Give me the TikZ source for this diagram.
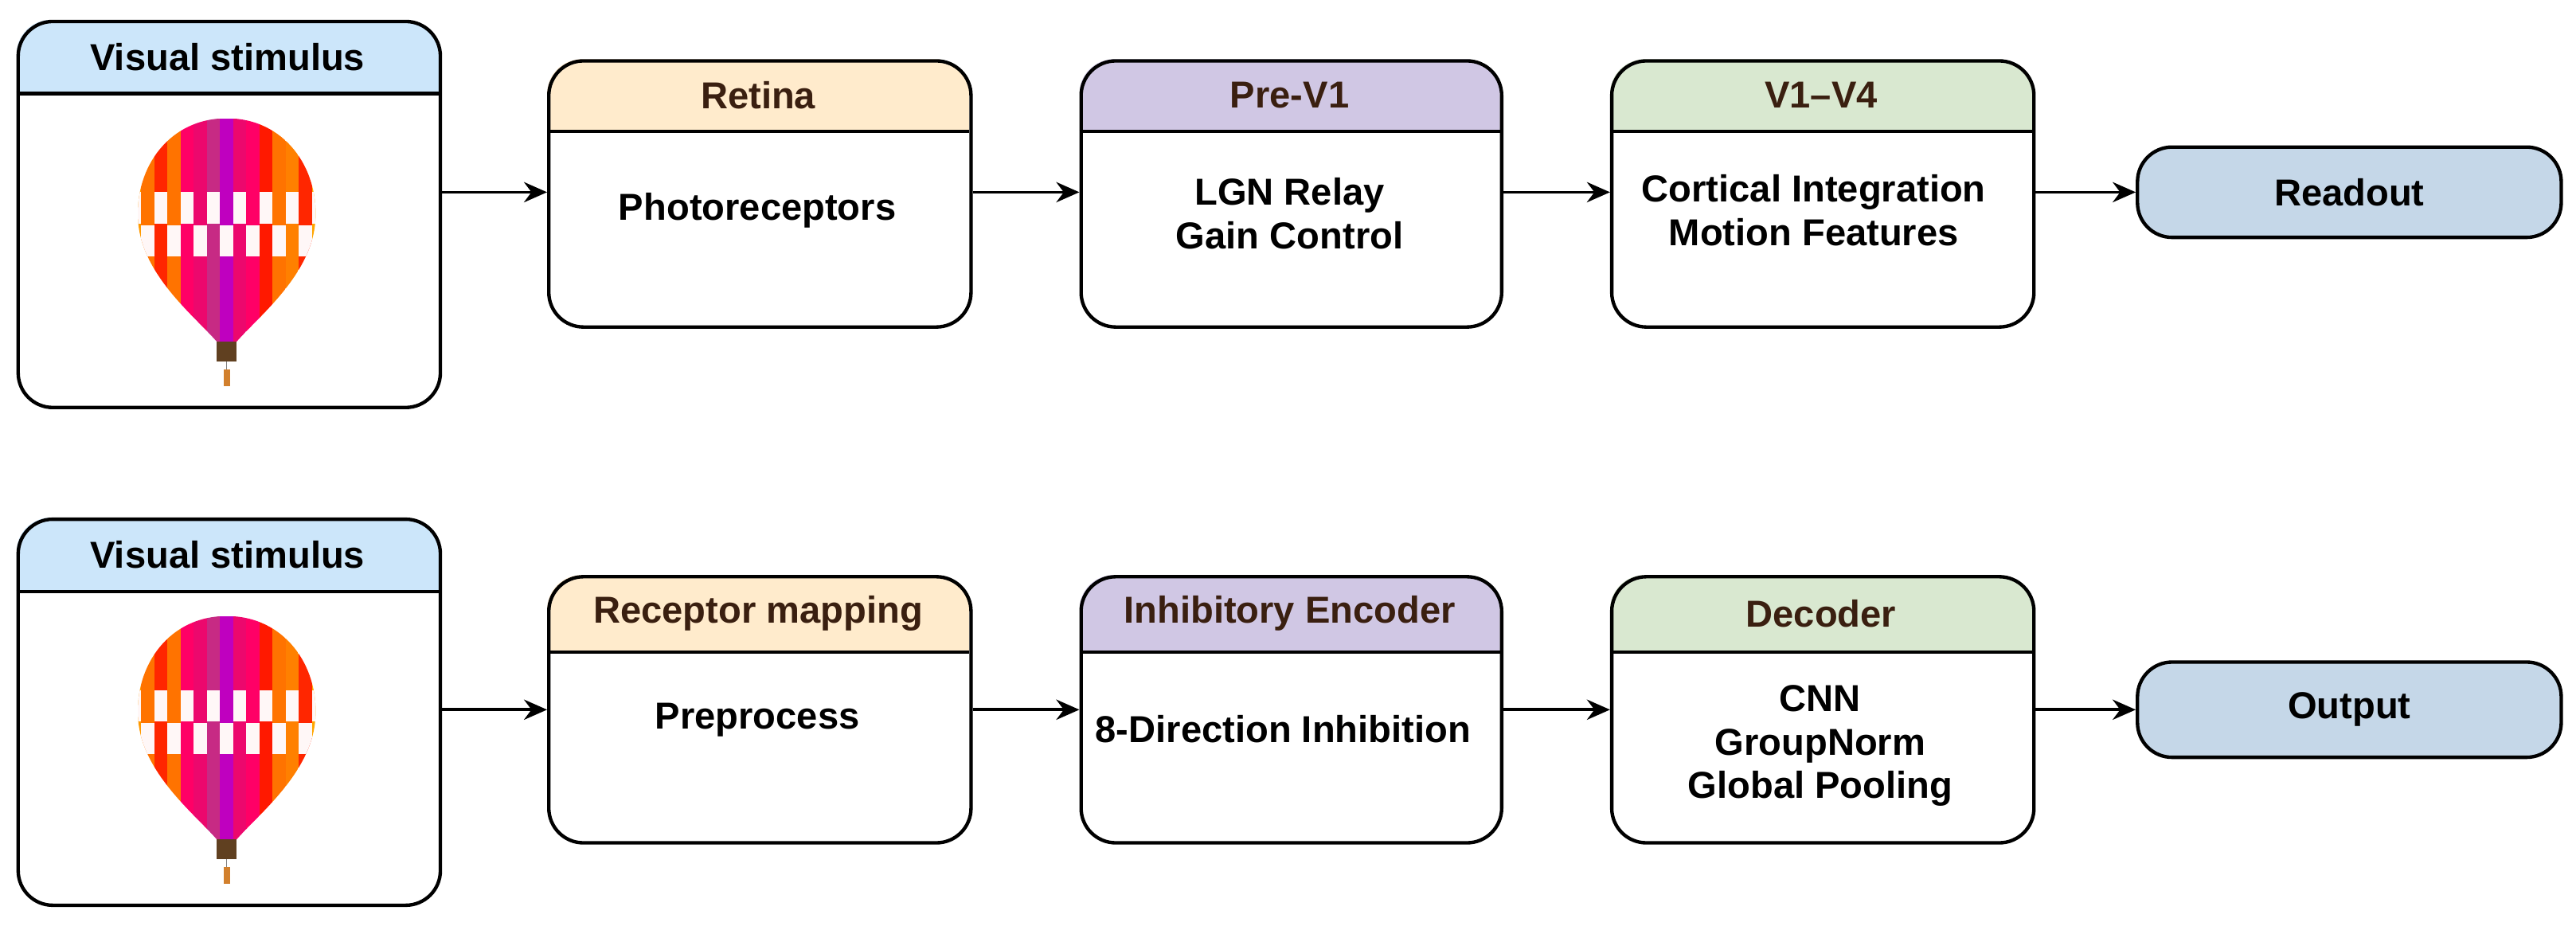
\documentclass[tikz,border=0pt]{standalone}
\usepackage{fontspec}
\setmainfont{Liberation Sans}
\usetikzlibrary{positioning,arrows.meta,calc}
\definecolor{stimblue}{HTML}{CCE6FA}
\definecolor{retorange}{HTML}{FFEBCC}
\definecolor{prepurple}{HTML}{D0C7E4}
\definecolor{cortgreen}{HTML}{D9E8D0}
\definecolor{outblue}{HTML}{C5D7E8}
\definecolor{titlebrown}{HTML}{3A1F10}
\tikzset{
    x=0.02cm,
    y=-0.02cm,
    >={Stealth[length=8pt,width=7pt]},
    lbl/.style = {
        font=\fontsize{13}{15}\selectfont\bfseries,
        align=center
    },
    frame/.style = {
        draw,
        rounded corners=12pt,
        line width=1.2pt
    },
    flow/.style = {
        ->,
        line width=1pt
    },
}
% box with coloured header: name, x1, y1, x2, y2, header bottom, colour, title colour, title
\newcommand{\stagebox}[9]{
    \begin{scope}
        \clip[rounded corners=12pt] (#2,#3) rectangle (#4,#5);
        \fill[#7] (#2,#3) rectangle (#4,#6);
    \end{scope}
    \draw[line width=1.2pt] (#2,#6) -- (#4,#6);
    \node[frame, minimum width={(#4-#2)*0.02cm}, minimum height={(#5-#3)*0.02cm}, anchor=north west] (#1) at (#2,#3) {};
    \node[lbl, text=#8] (#1-title) at ($(#2,#3)!0.5!(#4,#6)$) {#9};
}
% balloon picture, top point given
\newcommand{\balloon}[1]{
    \begin{scope}[shift={(#1)}]
        \begin{scope}
            \clip (0,0) .. controls (-35,0) and (-56,30) .. (-54,62)
                .. controls (-52,95) and (-20,120) .. (-6,136)
                -- (6,136) .. controls (20,120) and (52,95) .. (54,62)
                .. controls (56,30) and (35,0) .. (0,0);
            \foreach \i/\c in {-60/orange!80!yellow,-52/orange!90!red,-44/red!70!orange,-36/orange!90!red,-28/red!60!magenta,-20/magenta!70!red,-12/magenta!60!violet,-4/violet!50!magenta,4/magenta!70!red,12/red!60!magenta,20/red!80!orange,28/orange!90!red,36/orange,44/red!70!orange,52/orange!70!yellow}
                \fill[\c] (\i,0) rectangle ++(8,140);
            \foreach \r in {0,1}
                \foreach \i in {-60,-44,...,52}
                    \fill[white!88!pink] ({\i+8*\r},{45+20*\r}) rectangle ++(8,19);
        \end{scope}
        \fill[brown!50!black] (-6,136) rectangle (6,148);
        \draw[gray, line width=0.4pt] (0,148) -- (0,153);
        \fill[brown!70!orange] (-2,153) rectangle (2,163);
    \end{scope}
}
\begin{document}
\begin{tikzpicture}
    \useasboundingbox (0,0) rectangle (1568,566);

    % top row
    \stagebox{stimA}{10}{12}{267}{247}{57}{stimblue}{black}{Visual stimulus}
    \balloon{138,72}
    \stagebox{retina}{333}{36}{590}{198}{80}{retorange}{titlebrown}{Retina}
    \node[lbl] (retina-body) at (461,128) {Photoreceptors};
    \stagebox{prev}{657}{36}{913}{198}{80}{prepurple}{titlebrown}{Pre-V1}
    \node[lbl] (prev-body) at (785,130) {LGN Relay\\Gain Control};
    \stagebox{cortex}{980}{36}{1237}{198}{80}{cortgreen}{titlebrown}{V1--V4}
    \node[lbl] (cortex-body) at (1104,128) {Cortical Integration\\Motion Features};
    \node[frame, fill=outblue, minimum width=5.16cm, minimum height=1.1cm, anchor=west, lbl] (readout) at (1300,117) {Readout};

    \draw[flow] (stimA.east |- 0,117) -- (retina.west |- 0,117);
    \draw[flow] (retina.east |- 0,117) -- (prev.west |- 0,117);
    \draw[flow] (prev.east |- 0,117) -- (cortex.west |- 0,117);
    \draw[flow] (cortex.east |- 0,117) -- (readout.west);

    % bottom row
    \stagebox{stimB}{10}{315}{267}{550}{360}{stimblue}{black}{Visual stimulus}
    \balloon{138,375}
    \stagebox{recmap}{333}{350}{590}{512}{397}{retorange}{titlebrown}{Receptor mapping}
    \node[lbl] (recmap-body) at (461,438) {Preprocess};
    \stagebox{encoder}{657}{350}{913}{512}{397}{prepurple}{titlebrown}{Inhibitory Encoder}
    \node[lbl] (encoder-body) at (781,444) {8-Direction Inhibition};
    \stagebox{decoder}{980}{350}{1237}{512}{397}{cortgreen}{titlebrown}{Decoder}
    \node[lbl] (decoder-body) at (1108,454) {CNN\\GroupNorm\\Global Pooling};
    \node[frame, fill=outblue, minimum width=5.16cm, minimum height=1.16cm, anchor=west, lbl] (output) at (1300,432) {Output};

    \draw[flow] (stimB.east |- 0,432) -- (recmap.west |- 0,432);
    \draw[flow] (recmap.east |- 0,432) -- (encoder.west |- 0,432);
    \draw[flow] (encoder.east |- 0,432) -- (decoder.west |- 0,432);
    \draw[flow] (decoder.east |- 0,432) -- (output.west);
\end{tikzpicture}
\end{document}
